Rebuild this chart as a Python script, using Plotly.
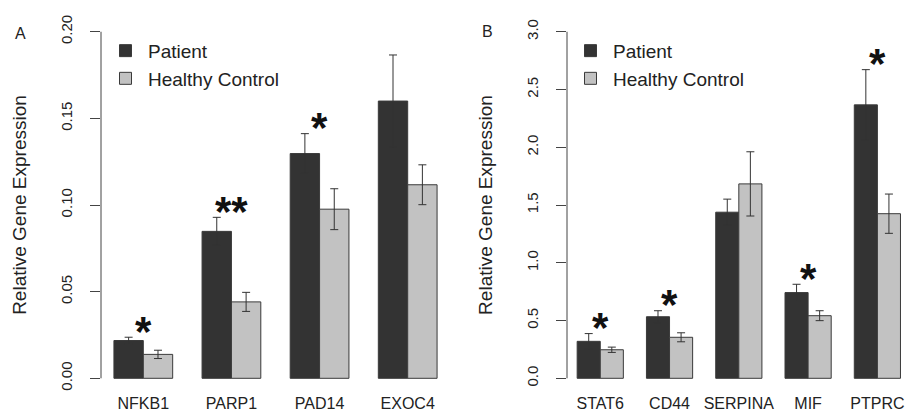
import plotly.graph_objects as go

# ---- data ----
genes_a = ["NFKB1", "PARP1", "PAD14", "EXOC4"]
patient_a = [0.0218, 0.0848, 0.1297, 0.160]
patient_a_err = [0.0019, 0.0081, 0.0115, 0.0266]
control_a = [0.0138, 0.0441, 0.0976, 0.1117]
control_a_err = [0.0024, 0.0055, 0.0118, 0.0115]
stars_a = ["*", "**", "*", ""]
yticks_a = [0.0, 0.05, 0.10, 0.15, 0.20]
yticktext_a = ["0.00", "0.05", "0.10", "0.15", "0.20"]

genes_b = ["STAT6", "CD44", "SERPINA", "MIF", "PTPRC"]
patient_b = [0.32, 0.533, 1.438, 0.742, 2.367]
patient_b_err = [0.067, 0.052, 0.113, 0.072, 0.305]
control_b = [0.247, 0.355, 1.683, 0.542, 1.425]
control_b_err = [0.023, 0.039, 0.278, 0.043, 0.17]
stars_b = ["*", "*", "", "*", "*"]
yticks_b = [0.0, 0.5, 1.0, 1.5, 2.0, 2.5, 3.0]
yticktext_b = ["0.0", "0.5", "1.0", "1.5", "2.0", "2.5", "3.0"]

DARK = "#333333"
LIGHT = "#c2c2c2"
EDGE = "#3a3a3a"
TXT = "#222222"
FONT = "Liberation Sans, Arial, sans-serif"

W, H = 906, 414

fig = go.Figure()

def add_bars(genes, pv, pe, cv, ce, xa, ya, legend):
    fig.add_trace(go.Bar(
        x=genes, y=pv, name="Patient", marker=dict(color=DARK, line=dict(color=EDGE, width=1)),
        error_y=dict(type="data", array=pe, color="#333333", thickness=1, width=4),
        xaxis=xa, yaxis=ya, legend=legend, offsetgroup="p"))
    fig.add_trace(go.Bar(
        x=genes, y=cv, name="Healthy Control", marker=dict(color=LIGHT, line=dict(color=EDGE, width=1)),
        error_y=dict(type="data", array=ce, color="#333333", thickness=1, width=4),
        xaxis=xa, yaxis=ya, legend=legend, offsetgroup="c"))

add_bars(genes_a, patient_a, patient_a_err, control_a, control_a_err, "x", "y", "legend")
add_bars(genes_b, patient_b, patient_b_err, control_b, control_b_err, "x2", "y2", "legend2")

# significance stars
for genes, pv, pe, stars, xr, yr in [(genes_a, patient_a, patient_a_err, stars_a, "x", "y"),
                                     (genes_b, patient_b, patient_b_err, stars_b, "x2", "y2")]:
    for g, v, e, s in zip(genes, pv, pe, stars):
        if s:
            fig.add_annotation(x=g, y=v + e, xref=xr, yref=yr, text="<b>" + s + "</b>", showarrow=False,
                               xanchor="center", yanchor="middle", yshift=6,
                               font=dict(size=42, color="#111111", family=FONT))

# axis lines spanning first..last tick (R style)
for yt, xr, yr in [(yticks_a, "x domain", "y"), (yticks_b, "x2 domain", "y2")]:
    fig.add_shape(type="line", xref=xr, yref=yr, x0=0, x1=0, y0=yt[0], y1=yt[-1],
                  line=dict(color="#444444", width=1))

# panel letters
fig.add_annotation(x=20 / W, y=1 - 31 / H, xref="paper", yref="paper", text="A", showarrow=False,
                   xanchor="center", yanchor="middle",
                   font=dict(size=16, color=TXT, family=FONT))
fig.add_annotation(x=487 / W, y=1 - 29 / H, xref="paper", yref="paper", text="B", showarrow=False,
                   xanchor="center", yanchor="middle",
                   font=dict(size=16, color=TXT, family=FONT))

ydom = [(414 - 392) / H, (414 - 15) / H]
common_x = dict(showline=False, ticks="", showgrid=False, zeroline=False, type="category",
                tickfont=dict(size=16, color=TXT, family=FONT))
common_y = dict(showline=False, showgrid=False, zeroline=False, ticks="outside", ticklen=10,
                tickcolor="#444444", tickangle=-90, tickfont=dict(size=15, color=TXT, family=FONT),
                ticklabelstandoff=12, domain=ydom,
                title=dict(text="Relative Gene Expression", font=dict(size=19, color=TXT, family=FONT),
                           standoff=26))

fig.update_layout(
    width=W, height=H, margin=dict(l=0, r=0, t=0, b=0),
    paper_bgcolor="white", plot_bgcolor="white",
    barmode="group", bargap=1 / 3, bargroupgap=0,
    font=dict(family=FONT, color=TXT),
    xaxis=dict(domain=[101 / W, 450 / W], range=[-0.48, 3.48], **common_x),
    xaxis2=dict(domain=[567 / W, 1.0], range=[-0.48, 4.413], **common_x),
    yaxis=dict(range=[-0.008, 0.208], tickvals=yticks_a, ticktext=yticktext_a, anchor="x", **common_y),
    yaxis2=dict(range=[-0.12, 3.12], tickvals=yticks_b, ticktext=yticktext_b, anchor="x2", **common_y),
    legend=dict(x=103 / W, y=1 - 29 / H, xanchor="left", yanchor="top", bgcolor="rgba(0,0,0,0)",
                font=dict(size=19, color=TXT, family=FONT), tracegroupgap=0, itemwidth=35),
    legend2=dict(x=568 / W, y=1 - 29 / H, xanchor="left", yanchor="top", bgcolor="rgba(0,0,0,0)",
                 font=dict(size=19, color=TXT, family=FONT), tracegroupgap=0, itemwidth=35),
)

fig.write_html("out.html")
